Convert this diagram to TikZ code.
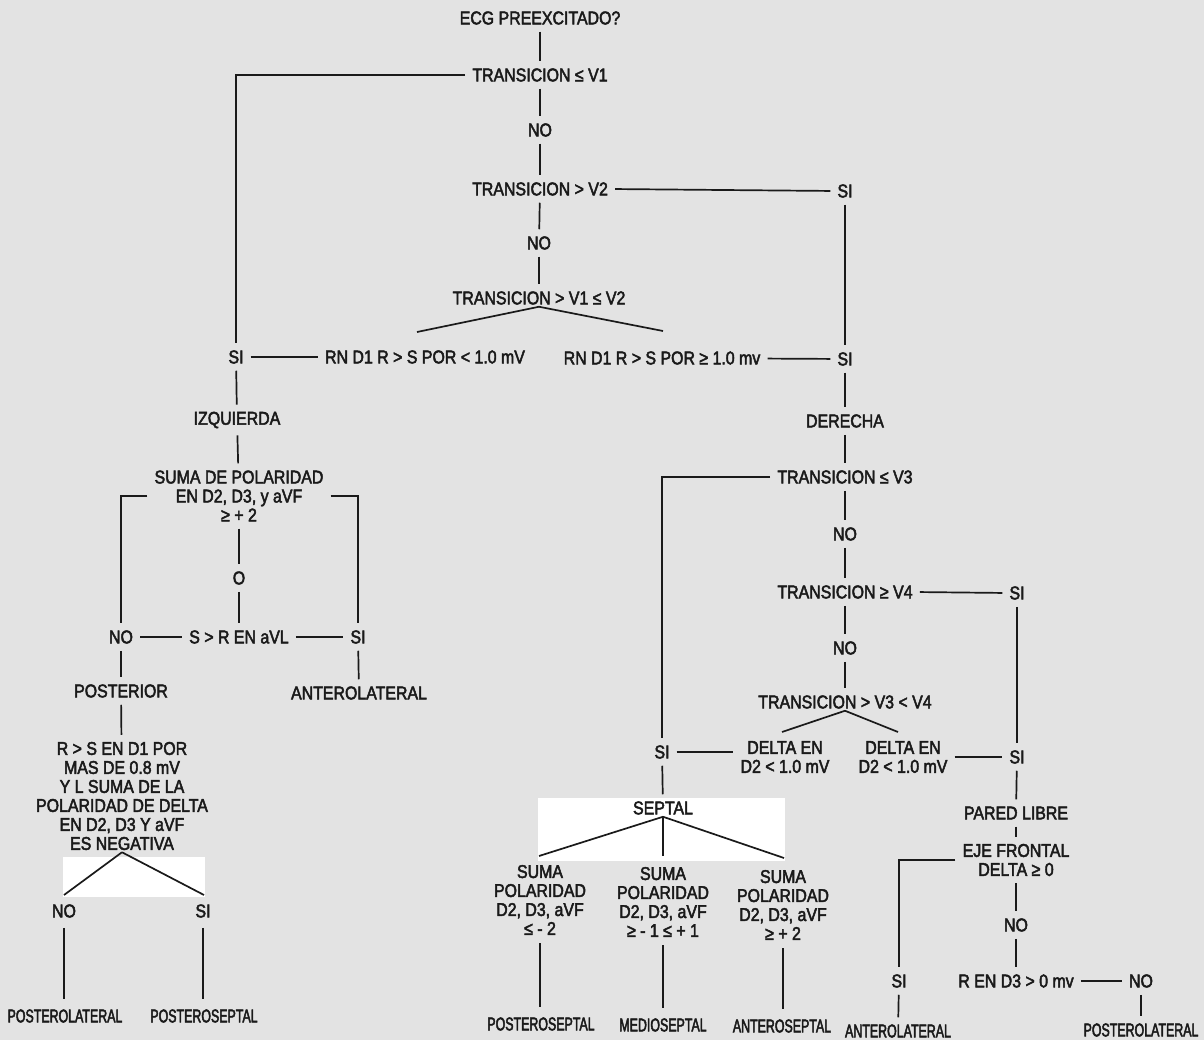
\documentclass[tikz,border=0pt]{standalone}
\usepackage{fontspec}
\setmainfont{Liberation Sans}[FakeStretch=0.86,FakeBold=2.5]
\newfontfamily\narrowfont{Liberation Sans}[FakeStretch=0.67,FakeBold=2.5]
\usetikzlibrary{calc}
\definecolor{bg}{HTML}{E3E3E3}
\definecolor{ink}{HTML}{1A1A1A}
\begin{document}
\begin{tikzpicture}[x=1pt,y=-1pt,
  every node/.style={inner sep=2pt,text=ink,font=\fontsize{18.5}{19}\selectfont},
  multi/.style={align=center},
  narrowlbl/.style={font=\fontsize{18.5}{19}\narrowfont},
  conn/.style={draw=ink,line width=1.7pt,shorten <=5pt,shorten >=5pt},
  branch/.style={draw=ink,line width=1.7pt}]
\fill[bg] (0,0) rectangle (1204,1040);
\useasboundingbox (0,0) rectangle (1204,1040);
% white patches
\fill[white] (63,857) rectangle (205,897);
\fill[white] (538,798) rectangle (785,861);

% ---- top trunk ----
\node (ecg) at (540,18) {ECG PREEXCITADO?};
\node (t1) at (540,75) {TRANSICION ≤ V1};
\node (no1) at (540,130) {NO};
\node (t2) at (540,189) {TRANSICION > V2};
\node (no2) at (539,243) {NO};
\node (t3) at (539,298) {TRANSICION > V1 ≤ V2};
\node (rnA) at (425,357) {RN D1 R > S POR < 1.0 mV};
\node (rnB) at (662,358) {RN D1 R > S POR ≥ 1.0 mv};
\node (siA) at (236,357) {SI};
\node (siB) at (845,359) {SI};
\node (siC) at (845,191) {SI};
\coordinate (bA) at (417,332);
\coordinate (bB) at (663,331);

% ---- left branch ----
\node (izq) at (237,420) {IZQUIERDA};
\node[multi] (suma) at (239,496) {SUMA DE POLARIDAD\\EN D2, D3, y aVF\\≥ + 2};
\node (o) at (239,578) {O};
\node (srav) at (239,637) {S > R EN aVL};
\node (noL) at (121,637) {NO};
\node (siL) at (358,637) {SI};
\node (post) at (121,691) {POSTERIOR};
\node (antl) at (359,693) {ANTEROLATERAL};
\node[multi] (rs) at (122,796) {R > S EN D1 POR\\MAS DE 0.8 mV\\Y L SUMA DE LA\\POLARIDAD DE DELTA\\EN D2, D3 Y aVF\\ES NEGATIVA};
\coordinate (cA) at (64,895);
\coordinate (cB) at (204,895);
\node (noLL) at (64,911) {NO};
\node (siLL) at (203,911) {SI};
\node[narrowlbl] (pl1) at (65,1016) {POSTEROLATERAL};
\node[narrowlbl] (ps1) at (204,1016) {POSTEROSEPTAL};

% ---- right branch ----
\node (der) at (845,421) {DERECHA};
\node (t4) at (845,477) {TRANSICION ≤ V3};
\node (no3) at (845,534) {NO};
\node (t5) at (845,592) {TRANSICION ≥ V4};
\node (si5) at (1017,593) {SI};
\node (no4) at (845,648) {NO};
\node (t6) at (845,702) {TRANSICION > V3 < V4};
\coordinate (dAc) at (782,732);
\coordinate (dBc) at (898,732);
\node[multi] (dA) at (785,757) {DELTA EN\\D2 < 1.0 mV};
\node[multi] (dB) at (903,757) {DELTA EN\\D2 < 1.0 mV};
\node (siS) at (662,752) {SI};
\node (siP) at (1017,757) {SI};
\node (sep) at (663,808) {SEPTAL};
\coordinate (sA) at (539,856);
\coordinate (sB) at (663,856);
\coordinate (sC) at (784,858);
\node[multi] (su1) at (540,900) {SUMA\\POLARIDAD\\D2, D3, aVF\\≤ - 2};
\node[multi] (su2) at (663,902) {SUMA\\POLARIDAD\\D2, D3, aVF\\≥ - 1 ≤ + 1};
\node[multi] (su3) at (783,905) {SUMA\\POLARIDAD\\D2, D3, aVF\\≥ + 2};
\node[narrowlbl] (ps2) at (541,1024) {POSTEROSEPTAL};
\node[narrowlbl] (ms) at (663,1025) {MEDIOSEPTAL};
\node[narrowlbl] (as) at (782,1026) {ANTEROSEPTAL};
\node (pared) at (1016,813) {PARED LIBRE};
\node[multi] (eje) at (1016,860) {EJE FRONTAL\\DELTA ≥ 0};
\node (no5) at (1016,925) {NO};
\node (rd3) at (1016,981) {R EN D3 > 0 mv};
\node (no6) at (1141,981) {NO};
\node (siE) at (899,981) {SI};
\node[narrowlbl] (antl2) at (898,1031) {ANTEROLATERAL};
\node[narrowlbl] (pl2) at (1141,1030) {POSTEROLATERAL};

% ---- connectors: trunk ----
\draw[conn] (ecg) -- (t1);
\draw[conn] (t1.west) -| (siA);
\draw[conn] (t1) -- (no1);
\draw[conn] (no1) -- (t2);
\draw[conn] (t2) -- (no2);
\draw[conn] (no2) -- (t3);
\draw[conn] (t2.east) -- (siC.west);
\draw[conn] (siC) -- (siB);
\draw[branch] (t3.south) -- (bA);
\draw[branch] (t3.south) -- (bB);
\draw[conn] (siA) -- (rnA);
\draw[conn] (rnB) -- (siB);

% ---- connectors: left ----
\draw[conn] (siA) -- (izq);
\draw[conn] (izq) -- (suma);
\draw[conn] (suma.west) -| (noL);
\draw[conn] (suma.east) -| (siL);
\draw[conn] (suma) -- (o);
\draw[conn] (o) -- (srav);
\draw[conn] (noL) -- (srav);
\draw[conn] (srav) -- (siL);
\draw[conn] (noL) -- (post);
\draw[conn] (siL) -- (antl);
\draw[conn] (post) -- (rs);
\draw[branch] (rs.south) -- (cA);
\draw[branch] (rs.south) -- (cB);
\draw[conn,shorten <=8pt,shorten >=8pt] (noLL.south) -- (noLL.south |- pl1.north);
\draw[conn,shorten <=8pt,shorten >=8pt] (siLL.south) -- (siLL.south |- ps1.north);

% ---- connectors: right ----
\draw[conn] (siB) -- (der);
\draw[conn] (der) -- (t4);
\draw[conn] (t4.west) -| (siS);
\draw[conn] (t4) -- (no3);
\draw[conn] (no3) -- (t5);
\draw[conn] (t5) -- (no4);
\draw[conn] (no4) -- (t6);
\draw[conn] (t5.east) -- (si5.west);
\draw[conn] (si5) -- (siP);
\draw[branch] (t6.south) -- (dAc);
\draw[branch] (t6.south) -- (dBc);
\draw[conn] (siS.east) -- (dA.west |- siS.east);
\draw[conn] (dB.east) -- (siP.west);
\draw[conn] (siS) -- (sep);
\draw[branch] (sep.south) -- (sA);
\draw[branch] (sep.south) -- (sB);
\draw[branch] (sep.south) -- (sC);
\draw[conn,shorten <=6pt,shorten >=8pt] (su1.south) -- (su1.south |- ps2.north);
\draw[conn,shorten <=6pt,shorten >=8pt] (su2.south) -- (su2.south |- ms.north);
\draw[conn,shorten <=6pt,shorten >=8pt] (su3.south) -- (su3.south |- as.north);
\draw[conn] (siP) -- (pared);
\draw[conn] (pared) -- (eje);
\draw[conn] (eje.west) -| (siE);
\draw[conn] (eje) -- (no5);
\draw[conn] (no5) -- (rd3);
\draw[conn] (rd3) -- (no6);
\draw[conn] (no6) -- (pl2);
\draw[conn] (siE) -- (antl2);
\end{tikzpicture}
\end{document}
